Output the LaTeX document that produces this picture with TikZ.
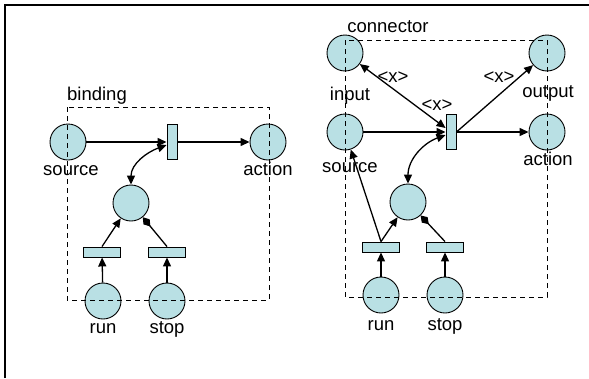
\documentclass[tikz,border=0pt]{standalone}
\usepackage{fontspec}
\setmainfont{Liberation Sans}
\usetikzlibrary{arrows.meta}
\definecolor{placecol}{RGB}{185,224,228}
\begin{document}
\begin{tikzpicture}[x=1pt,y=-1pt,
  place/.style={circle,draw,fill=placecol,minimum size=36pt,inner sep=0pt,line width=0.9pt},
  vtrans/.style={rectangle,draw,fill=placecol,minimum width=10pt,minimum height=35pt,inner sep=0pt,line width=0.9pt},
  htrans/.style={rectangle,draw,fill=placecol,minimum width=37pt,minimum height=10pt,inner sep=0pt,line width=0.9pt},
  lbl/.style={font=\fontsize{18.5}{20}\selectfont,anchor=base,inner sep=0pt},
  arr/.style={-{Triangle[length=9pt,width=8pt]},line width=1.3pt},
  dbl/.style={{Triangle[length=9pt,width=8pt]}-{Triangle[length=9pt,width=8pt]},line width=1.3pt},
  dia/.style={-{Diamond[length=12pt,width=8pt]},line width=1.3pt},
  grp/.style={dash pattern=on 5pt off 4pt,line width=0.8pt}]
\useasboundingbox (0,0) rectangle (589,378);
\draw[line width=2pt] (5,378) -- (5,5) -- (589,5);
% left: binding
\node[place] (s1) at (68,142) {};
\node[vtrans] (t1) at (172,142) {};
\node[place] (a1) at (268,142) {};
\node[place] (m1) at (131,203) {};
\node[htrans] (rt1) at (102,252) {};
\node[htrans] (st1) at (167,252) {};
\node[place] (r1) at (103,301) {};
\node[place] (p1) at (167,301) {};
\draw[grp] (67,107) rectangle (269,300);
\node[lbl] (lb1) at (97,100) {binding};
\node[lbl] (ls1) at (71,175) {source};
\node[lbl] (la1) at (268,175) {action};
\node[lbl] (lr1) at (103,333) {run};
\node[lbl] (lp1) at (167,333) {stop};
\draw[arr] (s1) -- (t1.west);
\draw[arr] (t1) -- (a1);
\draw[dbl] ([yshift=-3pt]t1.west) to[out=200,in=90] (m1.north);
\draw[arr] (rt1.north) -- (m1);
\draw[dia] (st1.north) -- (m1);
\draw[arr] (r1) -- (rt1);
\draw[arr] (p1) -- (st1);
% right: connector
\node[place] (i2) at (345,53) {};
\node[place] (o2) at (547,53) {};
\node[place] (s2) at (345,132) {};
\node[place] (a2) at (547,132) {};
\node[vtrans] (t2) at (451,132) {};
\node[place] (m2) at (408,202) {};
\node[htrans] (rt2) at (381,247) {};
\node[htrans] (st2) at (445,247) {};
\node[place] (r2) at (381,295) {};
\node[place] (p2) at (445,295) {};
\draw[grp] (345,40) rectangle (547,297);
\node[lbl] (lb2) at (388,32) {connector};
\node[lbl] (li2) at (350,100) {input};
\node[lbl] (lo2) at (548,97) {output};
\node[lbl] (ls2) at (350,172) {source};
\node[lbl] (la2) at (548,165) {action};
\node[lbl] (lr2) at (381,330) {run};
\node[lbl] (lp2) at (445,330) {stop};
\node[lbl] (x1) at (393,82) {<x>};
\node[lbl] (x2) at (499,82) {<x>};
\node[lbl] (x3) at (437,110) {<x>};
\draw[dbl] (i2) -- ([yshift=4pt]t2.west);
\draw[arr] (t2.east) -- (o2);
\draw[arr] (s2) -- (t2.west);
\draw[arr] (t2) -- (a2);
\draw[dbl] ([yshift=-3pt]t2.west) to[out=200,in=90] (m2.north);
\draw[arr] (rt2.north) -- (m2);
\draw[arr] (rt2.north) -- (s2);
\draw[dia] (st2.north) -- (m2);
\draw[arr] (r2) -- (rt2);
\draw[arr] (p2) -- (st2);
\end{tikzpicture}
\end{document}
